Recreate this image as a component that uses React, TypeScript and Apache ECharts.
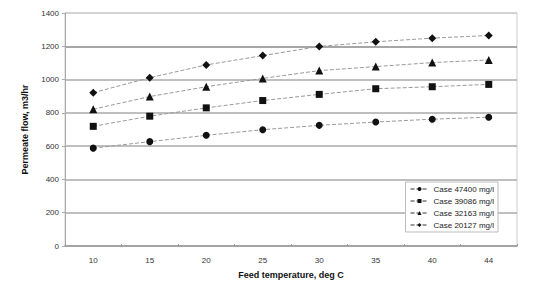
import React, { useEffect, useRef } from "react";
import * as echarts from "echarts";

const categories = ["10", "15", "20", "25", "30", "35", "40", "44"];
const case47400 = [588, 627, 665, 699, 725, 745, 762, 774];
const case39086 = [719, 780, 830, 874, 911, 945, 957, 971];
const case32163 = [822, 898, 957, 1007, 1054, 1078, 1102, 1118];
const case20127 = [921, 1011, 1088, 1144, 1199, 1227, 1249, 1265];
const seriesNames = ["Case 47400 mg/l", "Case 39086 mg/l", "Case 32163 mg/l", "Case 20127 mg/l"];

export default function App() {
  const ref = useRef<HTMLDivElement>(null);
  useEffect(() => {
    const chart = echarts.init(ref.current!, null, { renderer: "svg" });
    const font = "Liberation Sans, Arial, sans-serif";
    const mk = (name: string, data: number[], symbol: string, size: number) => ({
      name,
      type: "line",
      data,
      symbol,
      symbolSize: size,
      itemStyle: { color: "#111" },
      lineStyle: { color: "#999", width: 1, type: [4, 2] },
    });
    chart.setOption({
      animation: false,
      backgroundColor: "#fff",
      textStyle: { fontFamily: font },
      grid: { left: 65, right: 35, top: 13, bottom: 36, show: true, borderColor: "#ccc", borderWidth: 1 },
      xAxis: {
        type: "category",
        data: categories,
        boundaryGap: true,
        name: "Feed temperature, deg C",
        nameLocation: "middle",
        nameGap: 24,
        nameTextStyle: { fontSize: 9, color: "#111", fontWeight: "bold", fontFamily: font },
        axisLine: { lineStyle: { color: "#999", width: 1.5 } },
        axisTick: { show: true, inside: true, length: 2, lineStyle: { color: "#999" } },
        axisLabel: { fontSize: 8, color: "#333", margin: 10, fontFamily: font },
      },
      yAxis: {
        type: "value",
        min: 0,
        max: 1400,
        interval: 200,
        name: "Permeate flow, m3/hr",
        nameLocation: "middle",
        nameGap: 36,
        nameTextStyle: { fontSize: 9, color: "#111", fontWeight: "bold", fontFamily: font },
        axisLine: { show: true, lineStyle: { color: "#aaa" } },
        axisTick: { show: true, length: 3, lineStyle: { color: "#aaa" } },
        axisLabel: { fontSize: 8, color: "#333", margin: 6, fontFamily: font, formatter: (v: number) => String(v) },
        splitLine: {
          lineStyle: {
            color: ["#bbb", "#aaa", "#aaa", "#aaa", "#aaa", "#aaa", "#888", "#ccc"],
            width: 1.5,
          },
        },
      },
      legend: {
        orient: "vertical",
        right: 54,
        top: 182,
        itemGap: 4,
        itemWidth: 18,
        itemHeight: 5,
        backgroundColor: "#fff",
        borderColor: "#bbb",
        borderWidth: 1,
        padding: [3, 4, 3, 4],
        textStyle: { fontSize: 8, color: "#222", fontFamily: font },
        data: seriesNames,
      },
      series: [
        mk(seriesNames[0], case47400, "circle", 7),
        mk(seriesNames[1], case39086, "rect", 7),
        mk(seriesNames[2], case32163, "triangle", 8),
        mk(seriesNames[3], case20127, "diamond", 8),
      ],
    });
    return () => chart.dispose();
  }, []);
  return <div ref={ref} style={{ width: 552, height: 284, position: "absolute", left: 0, top: 0 }} />;
}
